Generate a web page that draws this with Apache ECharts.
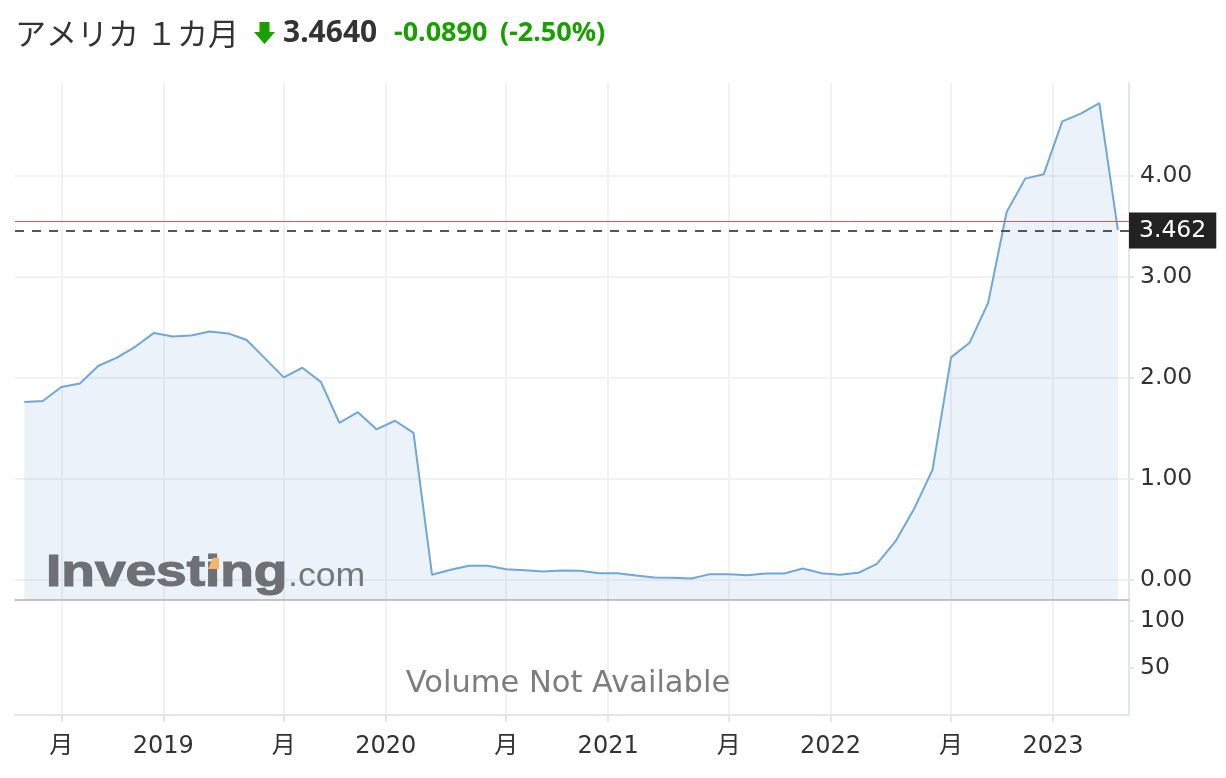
<!DOCTYPE html>
<html><head><meta charset="utf-8">
<script src="https://cdn.jsdelivr.net/npm/echarts@6/dist/echarts.min.js"></script>
<style>html,body{margin:0;padding:0;background:#fff;}#c{width:1226px;height:778px;}</style>
</head><body><div id="c"></div>
<script>
// ---- data ----
const months = ['2018-05','2018-06','2018-07','2018-08','2018-09','2018-10','2018-11','2018-12',
'2019-01','2019-02','2019-03','2019-04','2019-05','2019-06','2019-07','2019-08','2019-09','2019-10','2019-11','2019-12',
'2020-01','2020-02','2020-03','2020-04','2020-05','2020-06','2020-07','2020-08','2020-09','2020-10','2020-11','2020-12',
'2021-01','2021-02','2021-03','2021-04','2021-05','2021-06','2021-07','2021-08','2021-09','2021-10','2021-11','2021-12',
'2022-01','2022-02','2022-03','2022-04','2022-05','2022-06','2022-07','2022-08','2022-09','2022-10','2022-11','2022-12',
'2023-01','2023-02','2023-03','2023-04'];
const yields = [1.76,1.77,1.91,1.945,2.12,2.20,2.31,2.445,
2.41,2.42,2.46,2.44,2.375,2.19,2.005,2.10,1.96,1.555,1.66,1.49,
1.575,1.455,0.05,0.10,0.14,0.14,0.105,0.095,0.082,0.092,0.089,0.066,
0.066,0.043,0.023,0.02,0.013,0.056,0.056,0.046,0.063,0.063,0.112,0.066,
0.049,0.069,0.157,0.38,0.70,1.088,2.203,2.347,2.743,3.643,3.973,4.016,
4.54,4.616,4.721,3.464];
const xTickMonths = ['2018-07','2019-01','2019-07','2020-01','2020-07','2021-01','2021-07','2022-01','2022-07','2023-01'];
const xTickLabels = ['月','2019','月','2020','月','2021','月','2022','月','2023'];
const yTicks = [0,1,2,3,4];
const volTicks = [50,100];
const titleName = 'アメリカ １カ月';
const titlePrice = '3.4640';
const titleChange = '-0.0890';
const titlePct = '(-2.50%)';
const prevClose = 3.553;
const currentValue = 3.462;
const currentLabel = '3.462';
const volumeText = 'Volume Not Available';

// ---- build ----
const FONT = '"DejaVu Sans", "Noto Sans CJK JP", sans-serif';
function mIndex(s){const p=s.split('-').map(Number);return (p[0]-2018)*12+(p[1]-1);}
const seriesData = months.map((m,i)=>[mIndex(m)+0.5, yields[i]]);
const tickVals = xTickMonths.map((m,i)=> mIndex(m) + (xTickLabels[i]==='月'?0.5:0));
function labelFor(v){for(let i=0;i<tickVals.length;i++){if(Math.abs(tickVals[i]-v)<1e-6)return xTickLabels[i];}return '';}
const X_MIN=4, X_MAX=64.1;
const GRID='#f2f2f2', AX='#e1e5ec', GREEN='#17a000';

const chart = echarts.init(document.getElementById('c'));
chart.setOption({
  animation:false,
  grid:[{left:15,right:97,top:83,height:517},{left:15,right:97,top:600,height:115}],
  xAxis:[
    {gridIndex:0,type:'value',min:X_MIN,max:X_MAX,
     axisLine:{show:true,onZero:false,lineStyle:{color:'#c6c6c6',width:2}},
     axisTick:{show:false,customValues:tickVals},
     axisLabel:{show:false,customValues:tickVals},
     splitLine:{show:true,lineStyle:{color:GRID,width:2}}},
    {gridIndex:1,type:'value',min:X_MIN,max:X_MAX,
     axisLine:{show:true,onZero:false,lineStyle:{color:AX,width:2}},
     axisTick:{show:true,customValues:tickVals,length:7,lineStyle:{color:AX,width:2}},
     axisLabel:{show:true,customValues:tickVals,margin:20,color:'#333',fontSize:24,fontFamily:FONT,formatter:v=>labelFor(v)},
     splitLine:{show:true,lineStyle:{color:GRID,width:2}}}
  ],
  yAxis:[
    {gridIndex:0,type:'value',position:'right',min:-0.2,max:4.92,
     axisLine:{show:true,lineStyle:{color:AX,width:2}},
     axisTick:{show:true,customValues:yTicks,length:5,lineStyle:{color:AX,width:2}},
     axisLabel:{customValues:yTicks,formatter:v=>v.toFixed(2),margin:11,fontSize:23.5,color:'#333',fontFamily:FONT,padding:[4,0,0,0]},
     splitLine:{show:true,lineStyle:{color:GRID,width:2}}},
    {gridIndex:1,type:'value',position:'right',min:0,max:122,
     axisLine:{show:true,lineStyle:{color:AX,width:2}},
     axisTick:{show:true,customValues:volTicks,length:5,lineStyle:{color:AX,width:2}},
     axisLabel:{customValues:volTicks,margin:11,fontSize:23.5,color:'#333',fontFamily:FONT},
     splitLine:{show:false}}
  ],
  series:[
    {type:'line',xAxisIndex:0,yAxisIndex:0,data:seriesData,symbol:'none',
     lineStyle:{color:'#6fa7d8',width:2},
     areaStyle:{origin:'start',color:'rgba(100,150,210,0.18)'},
     markLine:{silent:true,symbol:'none',animation:false,
       data:[
         {yAxis:prevClose,lineStyle:{color:'#d65a50',width:1,type:'solid'},label:{show:false}},
         {yAxis:currentValue,lineStyle:{color:'#555',width:2,type:[9,8]},
          label:{show:true,position:'end',distance:0,formatter:currentLabel,backgroundColor:'#222',color:'#fff',
                 padding:[6,10],lineHeight:24,fontSize:23.5,fontFamily:FONT}}
       ]}},
    {type:'line',xAxisIndex:1,yAxisIndex:1,data:[]}
  ],
  graphic:[
    {type:'text',x:15,y:33,style:{text:titleName,font:'31px "Noto Sans CJK JP"',fill:'#333',verticalAlign:'middle'}},
    {type:'polygon',shape:{points:[[259.5,22],[269.5,22],[269.5,32],[275,32],[264.5,44],[254,32],[259.5,32]]},style:{fill:GREEN}},
    {type:'text',x:283,y:33,style:{text:titlePrice,font:'bold 30px "Noto Sans"',fill:'#333',verticalAlign:'middle'}},
    {type:'text',x:394,y:33,style:{text:titleChange,font:'bold 27px "Noto Sans"',fill:GREEN,verticalAlign:'middle'}},
    {type:'text',x:500,y:33,style:{text:titlePct,font:'bold 27px "Noto Sans"',fill:GREEN,verticalAlign:'middle'}},
    {type:'text',x:568,y:684,z:10,style:{text:volumeText,font:'30.5px "DejaVu Sans"',fill:'#7d7d7d',align:'center',verticalAlign:'middle'}},
    {type:'text',x:46,y:574,z:10,scaleX:1.25,style:{text:'Investing',font:'bold 44px "Liberation Sans"',fill:'#6e7073',stroke:'#6e7073',lineWidth:1.2,verticalAlign:'middle'}},
    {type:'polygon',z:11,shape:{points:[[208,569],[213,557.7],[219,557.7],[219,569]]},style:{fill:'#f5b76a'}},
    {type:'text',x:288,y:577,z:10,scaleX:1.05,style:{text:'.com',font:'34px "Liberation Sans"',fill:'#75787b',verticalAlign:'middle'}}
  ]
});
</script></body></html>
